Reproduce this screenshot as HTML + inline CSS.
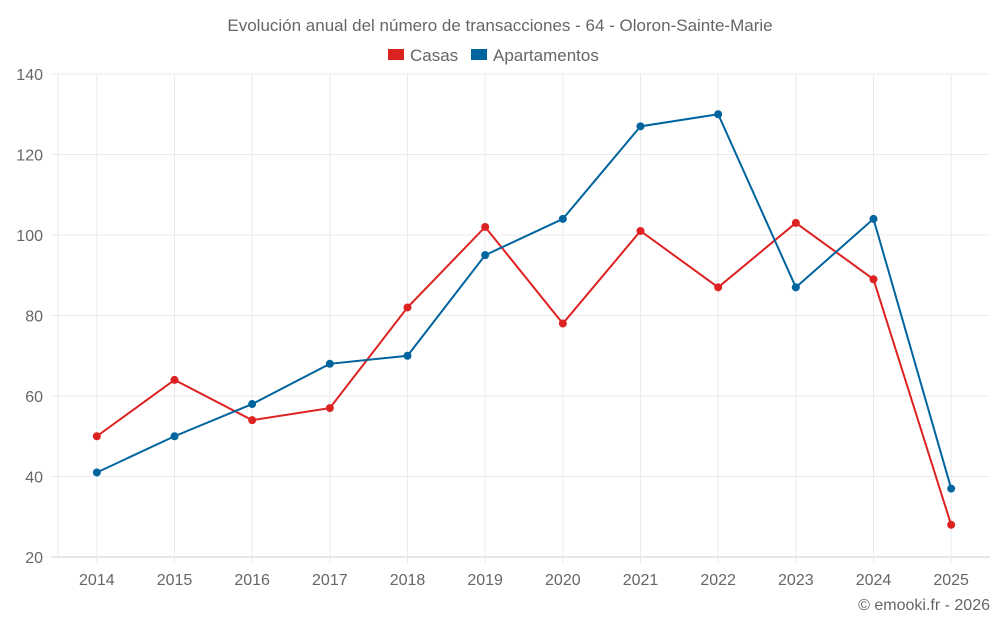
<!DOCTYPE html>
<html><head><meta charset="utf-8"><style>
body{margin:0;background:#fff;font-family:"Liberation Sans",sans-serif}
svg text{font-family:"Liberation Sans",sans-serif;fill:#666}
</style></head><body>
<svg width="1000" height="625">
<text x="500" y="31" text-anchor="middle" font-size="17">Evolución anual del número de transacciones - 64 - Oloron-Sainte-Marie</text>
<g>
<rect x="388" y="49" width="16" height="11" fill="#dd2222"/>
<text x="410" y="61" font-size="17">Casas</text>
<rect x="471" y="49" width="16" height="11" fill="#00649e"/>
<text x="493" y="61" font-size="17">Apartamentos</text>
</g>
<g id="grid"></g><g id="marks"></g>
<text x="990" y="610" text-anchor="end" font-size="16">© emooki.fr - 2026</text>
</svg>
<script>
const categories=["2014","2015","2016","2017","2018","2019","2020","2021","2022","2023","2024","2025"];
const casas=[50,64,54,57,82,102,78,101,87,103,89,28];
const apartamentos=[41,50,58,68,70,95,104,127,130,87,104,37];
const yTicks=[20,40,60,80,100,120,140];
const L=58,R=990,T=74,B=557,ymin=20,ymax=140;
const bw=(R-L)/categories.length;
const x=i=>L+bw*(i+0.5);
const y=v=>B-(v-ymin)/(ymax-ymin)*(B-T);
const NS="http://www.w3.org/2000/svg";
const grid=document.getElementById('grid'),marks=document.getElementById('marks');
function mk(t,a,p){const e=document.createElementNS(NS,t);for(const k in a)e.setAttribute(k,a[k]);p.appendChild(e);return e;}
yTicks.forEach(v=>{
const l=mk('line',{x1:L-7,x2:R,y1:y(v),y2:y(v),stroke:v===ymin?'#ccc':'#ebebeb'},grid);


const t=mk('text',{x:L-15,y:y(v)+6,'text-anchor':'end','font-size':16},grid);t.textContent=v;


});
mk('line',{x1:L,x2:L,y1:T,y2:B,stroke:'#ebebeb'},grid);
categories.forEach((c,i)=>{
const l=mk('line',{x1:x(i),x2:x(i),y1:T,y2:B+6,stroke:'#ebebeb'},grid);


const t=mk('text',{x:x(i),y:585,'text-anchor':'middle','font-size':16},grid);t.textContent=c;


});
function series(vals,col,name){
const p=mk('polyline',{points:vals.map((v,i)=>x(i)+','+y(v)).join(' '),fill:'none',stroke:col,'stroke-width':2},marks);


vals.forEach((v,i)=>{const c=mk('circle',{cx:x(i),cy:y(v),r:4,fill:col},marks);

});
}
series(casas,'#dd2222','casas');
series(apartamentos,'#00649e','apartamentos');
</script>
</body></html>
